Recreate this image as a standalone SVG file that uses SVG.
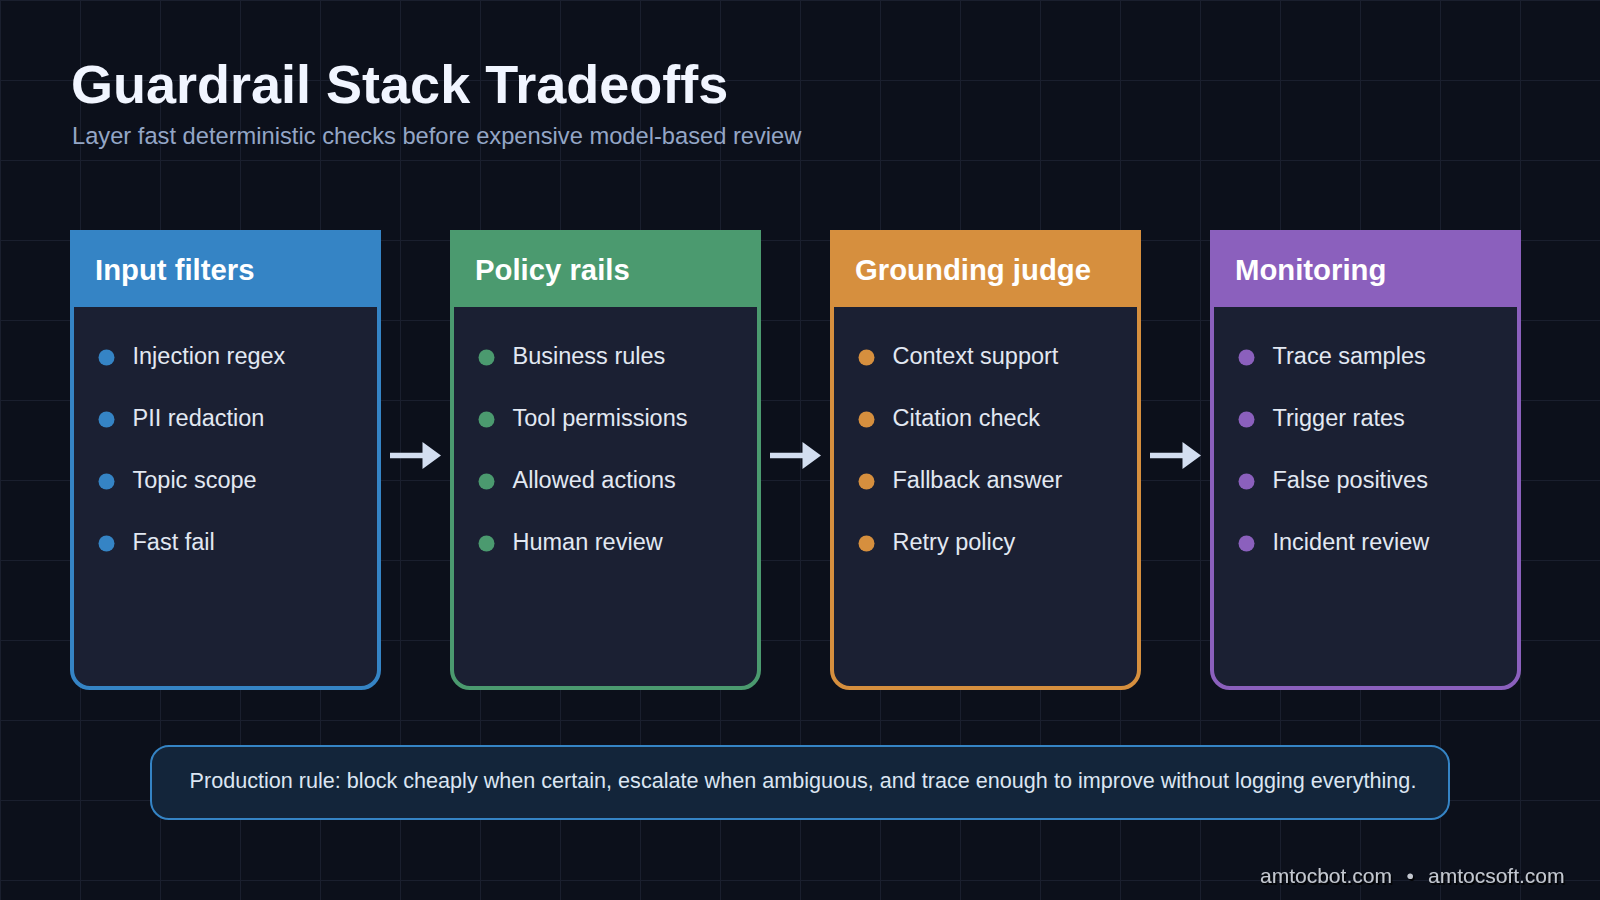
<svg xmlns="http://www.w3.org/2000/svg" width="1600" height="900" viewBox="0 0 1600 900">
<defs>
<pattern id="grid" width="80" height="80" patternUnits="userSpaceOnUse">
<path d="M0 0H80M0 0V80" fill="none" stroke="#1a1f2e" stroke-width="2"/>
</pattern>
<filter id="shadow" x="-10%" y="-50%" width="120%" height="200%">
<feDropShadow dx="1.5" dy="2" stdDeviation="0.6" flood-color="#000" flood-opacity="0.9"/>
</filter>
<style>
.title{font-family:"Liberation Sans",Arial,sans-serif;font-weight:700;font-size:54px;fill:#f1f5ff}
.sub{font-family:"Liberation Sans",Arial,sans-serif;font-size:23.7px;fill:#94a6c6}
.body{fill:#1b2033;stroke-width:4}
.head{font-family:"Liberation Sans",Arial,sans-serif;font-weight:700;font-size:29.3px;fill:#ffffff}
.item{font-family:"Liberation Sans",Arial,sans-serif;font-size:23.5px;fill:#e2e8f2}
.arrow{fill:#d3def0}
.note{font-family:"Liberation Sans",Arial,sans-serif;font-size:21.6px;fill:#dbe5f2}
.foot{font-family:"Liberation Sans",Arial,sans-serif;font-size:21px;fill:#c3c7cf}
</style>
</defs>
<rect width="1600" height="900" fill="#0c101b"/>
<rect width="1600" height="900" fill="url(#grid)"/>

<text class="title" x="71" y="103">Guardrail Stack Tradeoffs</text>
<text class="sub" x="72" y="144">Layer fast deterministic checks before expensive model-based review</text>

<g id="input-filters">
<rect class="body" x="72" y="232" width="307" height="456" rx="18" stroke="#3584c5"/>
<rect x="70" y="230" width="311" height="77" fill="#3584c5"/>
<text class="head" x="95" y="280">Input filters</text>
<g fill="#3584c5"><circle cx="106.5" cy="357.5" r="8"/><circle cx="106.5" cy="419.5" r="8"/><circle cx="106.5" cy="481.5" r="8"/><circle cx="106.5" cy="543.5" r="8"/></g>
<text class="item" x="132.5" y="364">Injection regex</text>
<text class="item" x="132.5" y="426">PII redaction</text>
<text class="item" x="132.5" y="488">Topic scope</text>
<text class="item" x="132.5" y="550">Fast fail</text>
</g>

<g id="policy-rails">
<rect class="body" x="452" y="232" width="307" height="456" rx="18" stroke="#4b9a6f"/>
<rect x="450" y="230" width="311" height="77" fill="#4b9a6f"/>
<text class="head" x="475" y="280">Policy rails</text>
<g fill="#4b9a6f"><circle cx="486.5" cy="357.5" r="8"/><circle cx="486.5" cy="419.5" r="8"/><circle cx="486.5" cy="481.5" r="8"/><circle cx="486.5" cy="543.5" r="8"/></g>
<text class="item" x="512.5" y="364">Business rules</text>
<text class="item" x="512.5" y="426">Tool permissions</text>
<text class="item" x="512.5" y="488">Allowed actions</text>
<text class="item" x="512.5" y="550">Human review</text>
</g>

<g id="grounding-judge">
<rect class="body" x="832" y="232" width="307" height="456" rx="18" stroke="#d68f3e"/>
<rect x="830" y="230" width="311" height="77" fill="#d68f3e"/>
<text class="head" x="855" y="280">Grounding judge</text>
<g fill="#d68f3e"><circle cx="866.5" cy="357.5" r="8"/><circle cx="866.5" cy="419.5" r="8"/><circle cx="866.5" cy="481.5" r="8"/><circle cx="866.5" cy="543.5" r="8"/></g>
<text class="item" x="892.5" y="364">Context support</text>
<text class="item" x="892.5" y="426">Citation check</text>
<text class="item" x="892.5" y="488">Fallback answer</text>
<text class="item" x="892.5" y="550">Retry policy</text>
</g>

<g id="monitoring">
<rect class="body" x="1212" y="232" width="307" height="456" rx="18" stroke="#8b60bd"/>
<rect x="1210" y="230" width="311" height="77" fill="#8b60bd"/>
<text class="head" x="1235" y="280">Monitoring</text>
<g fill="#8b60bd"><circle cx="1246.5" cy="357.5" r="8"/><circle cx="1246.5" cy="419.5" r="8"/><circle cx="1246.5" cy="481.5" r="8"/><circle cx="1246.5" cy="543.5" r="8"/></g>
<text class="item" x="1272.5" y="364">Trace samples</text>
<text class="item" x="1272.5" y="426">Trigger rates</text>
<text class="item" x="1272.5" y="488">False positives</text>
<text class="item" x="1272.5" y="550">Incident review</text>
</g>

<g id="connectors" class="arrow">
<path d="M390 452.8H422.5V442L441 455.5L422.5 469V458.2H390Z"/>
<path d="M770 452.8H802.5V442L821 455.5L802.5 469V458.2H770Z"/>
<path d="M1150 452.8H1182.5V442L1201 455.5L1182.5 469V458.2H1150Z"/>
</g>

<g id="production-rule">
<rect x="151" y="746" width="1298" height="73" rx="18" fill="#13253a" stroke="#3584c5" stroke-width="2"/>
<text class="note" x="803" y="788" text-anchor="middle">Production rule: block cheaply when certain, escalate when ambiguous, and trace enough to improve without logging everything.</text>
</g>

<text class="foot" y="883" filter="url(#shadow)"><tspan x="1260">amtocbot.com</tspan><tspan x="1406.5">•</tspan><tspan x="1428">amtocsoft.com</tspan></text>
</svg>
